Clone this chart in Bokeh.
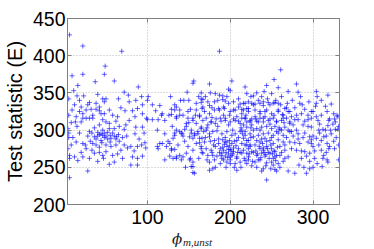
from bokeh.plotting import figure
from bokeh.models import Range1d, LinearAxis, FixedTicker, Div, CustomJSTickFormatter
from bokeh.layouts import column
from bokeh.embed import file_html
from bokeh.resources import INLINE

# (phi_m_unst, test statistic) pairs, grouped by region
pts_low_phi = [
    (6,428),(22,413),(69,406),(49,386),(9,373),(22,375),(48,375),(16,360),(37,365),(60,366),(89,358),(11,353),
    (72,351),(77,347),(15,346),(23,346),(40,348),(46,342),(50,342),(65,342),(93,345),(100,340),(30,337),(12,334),
    (20,331),(28,334),(38,336),(42,331),(48,338),(94,334),
    (9,327),(18,325),(22,322),(26,327),(32,328),(38,328),(42,326),(34,320),(44,322),(48,322),(54,327),(14,318),
    (22,316),(26,316),(30,316),(34,316),(46,314),(50,311),(54,309),(64,318),(73,326),(82,326),(88,329),(94,322),
    (100,314),(4,302),(13,311),(20,311),(42,307),(54,302),(60,302),(74,307),(72,301),(86,304),(94,304),
    (5,296),(18,296),(30,298),(33,296),(40,292),(44,295),(48,290),(52,297),(56,289),(60,292),(63,291),(65,294),
    (38,288),(44,286),(42,294),(46,293),(50,292),(36,291),(58,296),(55,293),(48,296),(62,288),(40,297),(52,288),
    (14,284),(22,282),(25,280),(34,282),(38,280),(42,277),(50,280),(56,278),(62,280),(72,280),(80,278),(88,278),
    (93,280),(4,275),(6,266),(6,262),(12,264),(22,264),(30,262),(36,269),(42,270),(46,266),(50,271),(58,266),
    (64,268),(68,273),(82,264),(88,262),(94,265),(54,254),(80,253),(88,253),(28,245),(6,236),(16,259),(60,257),
    (10,290),(28,292),(31,285),(45,283),(55,284),(66,285),(70,290),(75,292),(85,295),(90,288),(97,283),(98,276),
    (84,272),(76,276),(20,270),(26,275),(33,273),(47,262),(40,258),(70,262),(15,305),(8,310),(36,303),(46,300),
    (66,305),(78,313),(85,318),(96,296),(62,312),(58,320),(68,330),(78,338),(86,340),(18,340),(5,342),(8,280),
    (5,320),(5,290),
]
pts_mid_phi = [
    (106,334),(115,333),(133,334),(140,340),(150,340),(159,336),(165,342),(165,337),(106,314),(113,314),(121,313),
    (129,328),(135,331),(139,327),(143,320),(149,316),(155,313),(159,309),(163,320),(166,329),(121,295),(133,296),
    (139,298),(143,292),(153,300),(157,293),(161,298),(165,304),(133,293),(142,295),(153,296),(155,289),(161,295),
    (166,289),(112,278),(118,282),(123,278),(129,273),(133,274),(139,266),(143,264),(121,260),(141,260),(149,278),
    (155,273),(159,282),(165,275),(152,262),(155,257),(153,251),(155,243),(147,269),(148,351),(155,363),(156,366),
    (101,345),(112,300),(125,285),(127,265),(131,262),(135,262),(137,280),(145,285),(147,305),(150,310),(126,320),
    (118,322),(110,326),(130,305),(135,318),(144,340),(128,345),(162,262),(163,283),(158,320),(152,328),(162,345),
    (146,250),(99,316),(117,320),(129,321),(135,316),(139,320),(149,325),(155,316),(147,309),(133,327),(159,327),
    (135,300),(141,296),(145,301),(151,291),(157,295),(131,289),(127,282),(115,282),(113,275),(129,275),(135,264),
    (151,260),
]
pts_dense = [
    (261,381),(175,362),(202,366),(253,368),(187,406),(182,349),(187,347),(191,346),(200,353),(220,349),(232,350),
    (241,352),(250,349),(167,341),(173,338),(185,340),(191,341),(194,339),(204,338),(216,336),(222,338),(226,336),
    (234,340),(240,333),(246,337),(252,336),(258,336),(269,336),
    (169,325),(175,322),(181,327),(187,327),(193,329),(200,325),(206,327),(214,328),(222,329),(230,327),(236,325),
    (244,327),(250,322),(258,327),(264,320),(270,325),
    (167,313),(171,316),(177,311),(183,315),(189,312),(194,316),(200,311),(204,315),(210,312),(214,316),(220,311),
    (226,315),(232,312),(236,316),(240,311),(248,315),(256,312),(264,316),
    (167,331),(175,333),(181,338),(186,329),(192,331),(198,336),(204,327),(210,331),(214,322),(220,329),
    (163,318),(173,307),(177,311),(182,309),(188,316),(194,313),(199,320),(206,313),(212,309),(218,316),(224,311),
    (165,302),(171,300),(175,295),(179,298),(184,299),(190,295),(196,298),(202,293),(206,295),(212,298),(218,293),
    (224,295),(163,289),(169,284),(175,291),(181,286),(186,282),(191,287),(194,284),(199,286),(202,282),(208,286),
    (214,282),(220,286),(224,280),(165,278),(171,275),(177,273),(182,278),(188,275),(192,273),(196,278),(200,274),
    (204,271),(210,275),(216,273),(222,275),(167,269),(173,266),(179,266),(190,269),(194,265),(198,268),(202,266),
    (208,264),(214,269),(222,264),(175,257),(181,260),(192,260),(196,257),(200,260),(206,255),(212,257),(218,259),
    (175,246),(179,248),(208,246),(157,242),(155,251),
    (218,336),(228,334),(236,336),(240,338),(248,334),(254,337),(261,334),(266,329),
    (216,327),(222,325),(236,322),(242,325),(258,325),(263,321),
    (218,316),(224,313),(230,318),(234,311),(240,316),(246,313),(252,316),(256,311),(262,313),(268,316),
    (216,307),(220,304),(226,307),(232,302),(238,304),(244,305),(250,302),(254,305),(260,301),(266,304),
    (218,298),(228,300),(234,293),(240,295),(246,296),(252,293),(256,298),(264,293),
    (216,289),(222,286),(228,291),(232,286),(236,284),(242,289),(248,286),(252,282),(258,287),(264,284),
    (218,280),(224,278),(230,280),(236,275),(240,273),(244,278),(250,275),(254,271),(260,278),(266,273),
    (220,269),(226,271),(232,266),(238,269),(242,265),(248,269),(254,264),(260,266),(266,262),
    (222,260),(230,257),(236,260),(244,256),(250,257),(252,253),(258,255),(240,248),(254,247),(244,233),
    (187,270),(189,266),(191,277),(193,281),(195,270),(197,263),(199,279),(201,272),(203,268),(205,285),(207,279),
    (209,270),(186,288),(194,290),(200,264),(196,284),(204,276),(190,262),(198,274),(208,262),
    (231,272),(233,268),(235,278),(237,263),(239,282),(241,270),(243,267),(245,275),(247,262),(249,280),(251,268),
    (253,272),(255,259),(257,277),(238,288),(244,285),(250,290),(234,260),(246,270),(240,276),(252,262),(256,266),
    (172,303),(178,317),(185,305),(192,320),(198,307),(203,300),(208,318),(213,303),(219,320),(225,303),(231,315),
    (236,300),(242,318),(248,308),(253,320),(259,303),(265,310),(270,300),
    (210,290),(215,295),(220,280),(225,290),(228,270),(212,270),(217,262),(223,268),(227,258),(214,300),(180,280),
    (176,285),(170,290),(168,298),(184,265),(178,270),(172,260),(166,270),(262,270),(266,280),(268,290),(262,300),
    (258,296),(264,258),(260,250),(256,245),(249,248),(243,252),(238,245),(232,250),(226,252),(220,255),(213,250),
    (205,250),(200,255),(195,250),(188,255),(182,250),
    (170,345),(178,330),(196,345),(210,342),(225,345),(238,345),(245,342),(255,340),(262,345),(268,330),(198,355),
    (212,335),(230,335),(270,352),(258,357),(176,350),(165,350),(218,358),(244,360),(228,346),
]
pts_high_phi = [
    (280,362),(282,351),(304,352),(318,347),(284,336),(287,334),(304,336),(274,318),(280,320),(286,322),(294,320),
    (300,325),(304,318),(310,320),(317,325),(325,322),(272,311),(282,314),(290,312),(298,316),(306,313),(320,315),
    (327,311),(303,332),(319,313),(329,320),(278,314),(294,314),
    (272,309),(276,307),(288,307),(294,305),(298,304),(307,300),(312,301),(315,300),(321,300),(327,301),(330,301),
    (274,298),(282,295),(290,296),(296,291),(298,287),(304,289),(310,286),(313,291),
    (272,284),(278,283),(284,282),(294,284),(298,282),(300,278),(307,280),(317,282),(319,275),
    (274,275),(280,273),(290,271),(296,269),(310,273),(313,266),(317,260),(318,257),(311,251),
    (278,242),(292,242),(331,260),(270,264),(286,262),(302,262),
    (272,325),(275,340),(278,330),(285,345),(290,328),(295,338),(298,325),(305,345),(310,340),(315,332),(322,335),
    (326,315),(330,318),(331,305),(328,290),(325,285),(320,278),(316,270),(312,262),(305,255),(300,250),(296,258),
    (292,265),(286,272),(282,288),(276,292),(272,298),(280,300),(288,290),(300,292),(308,296),(316,292),(322,295),
    (326,275),(331,280),(296,248),(270,245),(283,253),(289,250),(302,272),(308,308),(318,306),(324,308),
]

x_ticks = [100, 200, 300]
y_ticks = [200, 250, 300, 350, 400, 450]
x_label = "ϕ"
x_label_sub = "m,unst"
y_label = "Test statistic (E)"

all_pts = pts_low_phi + pts_mid_phi + pts_dense + pts_high_phi
phi = [q[0] for q in all_pts]
stat = [q[1] for q in all_pts]

W = 366
p = figure(width=W, height=232, output_backend="svg", toolbar_location=None,
           x_range=Range1d(3.5, 332), y_range=Range1d(200, 450),
           min_border_left=63, min_border_right=27, min_border_top=18, min_border_bottom=28)
p.background_fill_color = "white"
p.border_fill_color = "white"
p.outline_line_color = "#808080"
p.outline_line_width = 1

p.scatter(phi, stat, marker="cross", size=5, line_color="#0000ff", line_alpha=0.6, line_width=1)

# tick-only axes on top and right (MATLAB-style box)
blank = CustomJSTickFormatter(code="return ''")
top = LinearAxis(formatter=blank)
right = LinearAxis(formatter=blank)
p.add_layout(top, "above")
p.add_layout(right, "right")

for ax in p.xaxis:
    ax.ticker = FixedTicker(ticks=x_ticks)
for ax in p.yaxis:
    ax.ticker = FixedTicker(ticks=y_ticks)

for ax in p.xaxis + p.yaxis:
    ax.major_tick_in = 4
    ax.major_tick_out = 0
    ax.minor_tick_line_color = None
    ax.axis_line_color = "#808080"
    ax.major_tick_line_color = "#808080"
    ax.major_label_text_font = "Liberation Sans"
    ax.major_label_text_font_size = "19.5px"
    ax.major_label_text_color = "black"

for ax in [top, right]:
    ax.major_label_text_font_size = "8px"
    ax.major_label_standoff = 0

p.yaxis[0].major_label_standoff = 2
p.xaxis[0].major_label_standoff = 8
p.yaxis[0].axis_label = y_label
p.yaxis[0].axis_label_text_font = "Liberation Sans"
p.yaxis[0].axis_label_text_font_style = "normal"
p.yaxis[0].axis_label_text_font_size = "20px"
p.yaxis[0].axis_label_text_color = "black"
p.yaxis[0].axis_label_standoff = 4

p.xgrid.ticker = FixedTicker(ticks=x_ticks)
p.ygrid.ticker = FixedTicker(ticks=y_ticks)
p.grid.grid_line_color = "#b8b8b8"
p.grid.grid_line_dash = "1 2"
p.grid.grid_line_width = 1

# strip below the plot carrying the x-axis label with its subscript
H2 = 17
label_html = (
    '<div style="position:relative;width:%dpx;height:%dpx;margin:0;padding:0;">'
    '<span style="position:absolute;left:172px;top:0px;line-height:15px;'
    'font-family:\'DejaVu Serif\';font-style:italic;font-size:15px;color:#222;">%s</span>'
    '<span style="position:absolute;left:183px;top:5px;line-height:11px;'
    'font-family:\'Liberation Serif\';font-style:italic;font-size:11px;color:#222;">%s</span>'
    '</div>' % (W, H2, x_label, x_label_sub)
)
lab = Div(text=label_html, width=W, height=H2, margin=0)

layout = column(p, lab, spacing=0)
open("out.html", "w").write(file_html(layout, INLINE))
